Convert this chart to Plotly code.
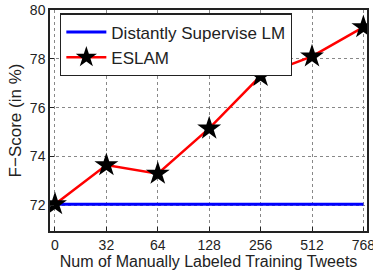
import plotly.graph_objects as go

categories = ["0", "32", "64", "128", "256", "512", "768"]
eslam = [72.05, 73.65, 73.3, 75.15, 77.3, 78.1, 79.3]
baseline = [72.05] * 7

fig = go.Figure()
fig.add_trace(go.Scatter(x=list(range(7)), y=baseline, mode="lines",
                         line=dict(color="#0000ff", width=3),
                         name="Distantly Supervise LM"))
fig.add_trace(go.Scatter(x=list(range(7)), y=eslam, mode="lines+markers",
                         line=dict(color="#ff0000", width=2.5),
                         marker=dict(symbol="star", size=18, color="black",
                                     line=dict(color="black", width=0)),
                         name="ESLAM"))

fig.update_layout(
    width=373, height=274,
    margin=dict(l=50, r=6, t=10, b=43),
    paper_bgcolor="white", plot_bgcolor="white",
    font=dict(family="Liberation Sans, Arial, sans-serif", size=14, color="#222"),
    showlegend=True,
    legend=dict(x=0.032, y=0.985, xanchor="left", yanchor="top",
                bgcolor="white", bordercolor="#222", borderwidth=1.2,
                font=dict(size=17), tracegroupgap=0, itemwidth=40),
)
fig.update_xaxes(
    automargin=False,
    range=[-0.097, 6.07], tickvals=list(range(7)), ticktext=categories,
    ticklabeloverflow="allow",
    showgrid=True, gridcolor="#888", griddash="dot", gridwidth=1,
    showline=True, linecolor="#222", linewidth=1.5, mirror=True,
    ticks="inside", ticklen=4, tickcolor="#222", zeroline=False,
    title=dict(text="Num of Manually Labeled Training Tweets", standoff=0, font=dict(size=16)),
)
fig.update_yaxes(
    automargin=False,
    range=[70.95, 80.0], tickvals=[72, 74, 76, 78, 80],
    ticklabeloverflow="allow",
    showgrid=True, gridcolor="#888", griddash="dot", gridwidth=1,
    showline=True, linecolor="#222", linewidth=1.5, mirror=True,
    ticks="inside", ticklen=4, tickcolor="#222", zeroline=False,
    title=dict(text="F\u2212Score (in %)", standoff=4, font=dict(size=17)),
)

# remove the browser's default 8px body margin so the figure fills the window
fig.write_html("out.html", config={"displayModeBar": False},
               post_script="document.body.style.margin='0px';")
